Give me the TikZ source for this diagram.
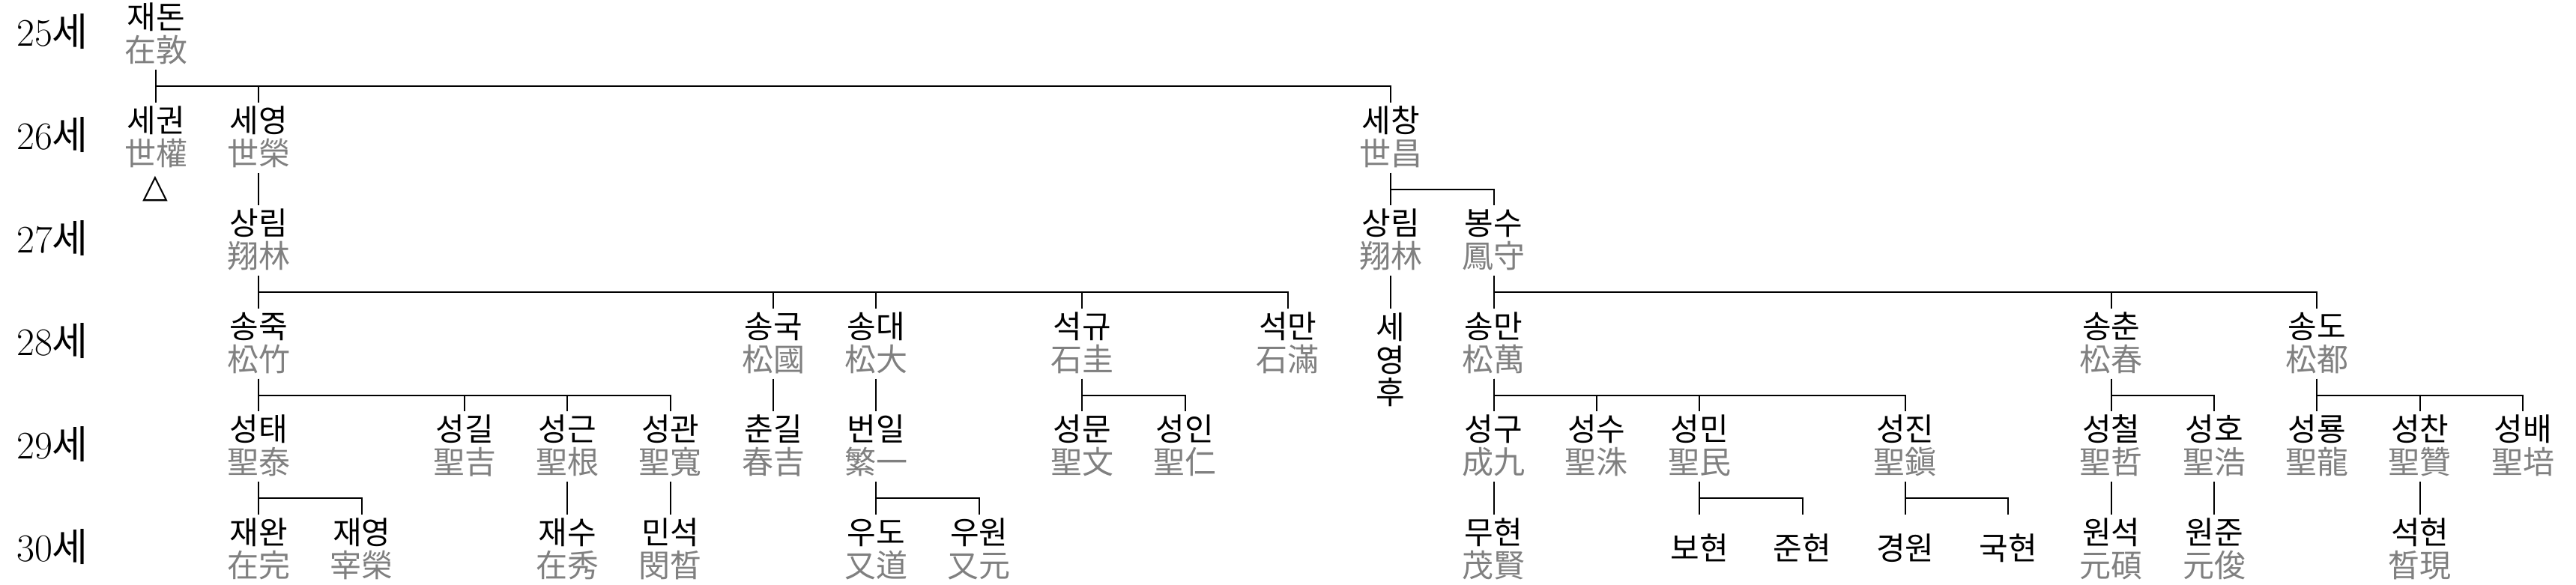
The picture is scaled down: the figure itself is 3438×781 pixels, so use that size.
\documentclass[tikz,border=0pt]{standalone}
\usepackage{fontspec}
\newfontfamily\kr{Noto Sans CJK KR}
\newfontfamily\dv{DejaVu Sans}
\definecolor{hanjagray}{RGB}{128,128,128}
\tikzset{
  pbox/.style={minimum width=86pt, minimum height=93.5pt, inner sep=0pt, draw=none},
  nm/.style={anchor=base, inner sep=0pt, font=\kr\fontsize{42}{48}\selectfont, text=black},
  hj/.style={nm, text=hanjagray},
  gen/.style={anchor=base west, inner sep=0pt, font=\fontsize{52}{60}\selectfont},
  conn/.style={draw=black, line width=2pt},
}
\newcommand\pers[5]{%
  \node[pbox] (#1) at ({208+137.35*#2},{46.25+137.5*#3}) {};
  \node[nm] (#1n) at ({208+137.35*#2},{38.5+137.5*#3}) {#4};
  \node[hj] (#1h) at ({208+137.35*#2},{82.5+137.5*#3}) {#5};
}
\newcommand\persn[4]{%
  \node[pbox] (#1) at ({208+137.35*#2},{46.25+137.5*#3}) {};
  \node[nm] (#1n) at ({208+137.35*#2},{60+137.5*#3}) {#4};
}
\newcommand\kids[2]{\foreach \c in {#2}{\draw[conn] (#1.south) -- ++(0,22) -| (\c.north);}}
\begin{document}
\begin{tikzpicture}[x=1pt,y=-1pt]
\useasboundingbox (0,0) rectangle (3438,781);
% generation labels
\node[gen] (g0) at (22,{62+137.5*0}) {25{\kr 세}};
\node[gen] (g1) at (22,{62+137.5*1}) {26{\kr 세}};
\node[gen] (g2) at (22,{62+137.5*2}) {27{\kr 세}};
\node[gen] (g3) at (22,{62+137.5*3}) {28{\kr 세}};
\node[gen] (g4) at (22,{62+137.5*4}) {29{\kr 세}};
\node[gen] (g5) at (22,{62+137.5*5}) {30{\kr 세}};
% 25
\pers{a0}{0}{0}{재돈}{在敦}
% 26
\pers{b1}{0}{1}{세권}{世權}
\pers{b2}{1}{1}{세영}{世榮}
\pers{b3}{12}{1}{세창}{世昌}
\node[font=\dv\fontsize{44}{50}\selectfont, inner sep=0pt] (tri) at (207,252) {△};
% 27
\pers{c1}{1}{2}{상림}{翔林}
\pers{c2}{12}{2}{상림}{翔林}
\pers{c3}{13}{2}{봉수}{鳳守}
% 28
\pers{d1}{1}{3}{송죽}{松竹}
\pers{d2}{6}{3}{송국}{松國}
\pers{d3}{7}{3}{송대}{松大}
\pers{d4}{9}{3}{석규}{石圭}
\pers{d5}{11}{3}{석만}{石滿}
\node[pbox, anchor=north, minimum height=132pt] (d6) at ({208+137.35*12},411.5) {};
\node[nm, align=center, anchor=north, font=\kr\fontsize{42}{43.5}\selectfont] (d6n) at ({208+137.35*12},418) {세\\영\\후};
\pers{d7}{13}{3}{송만}{松萬}
\pers{d8}{19}{3}{송춘}{松春}
\pers{d9}{21}{3}{송도}{松都}
% 29
\pers{e1}{1}{4}{성태}{聖泰}
\pers{e2}{3}{4}{성길}{聖吉}
\pers{e3}{4}{4}{성근}{聖根}
\pers{e4}{5}{4}{성관}{聖寬}
\pers{e5}{6}{4}{춘길}{春吉}
\pers{e6}{7}{4}{번일}{繁一}
\pers{e7}{9}{4}{성문}{聖文}
\pers{e8}{10}{4}{성인}{聖仁}
\pers{e9}{13}{4}{성구}{成九}
\pers{e10}{14}{4}{성수}{聖洙}
\pers{e11}{15}{4}{성민}{聖民}
\pers{e12}{17}{4}{성진}{聖鎭}
\pers{e13}{19}{4}{성철}{聖哲}
\pers{e14}{20}{4}{성호}{聖浩}
\pers{e15}{21}{4}{성룡}{聖龍}
\pers{e16}{22}{4}{성찬}{聖贊}
\pers{e17}{23}{4}{성배}{聖培}
% 30
\pers{f1}{1}{5}{재완}{在完}
\pers{f2}{2}{5}{재영}{宰榮}
\pers{f3}{4}{5}{재수}{在秀}
\pers{f4}{5}{5}{민석}{閔晳}
\pers{f5}{7}{5}{우도}{又道}
\pers{f6}{8}{5}{우원}{又元}
\pers{f7}{13}{5}{무현}{茂賢}
\persn{f8}{15}{5}{보현}
\persn{f9}{16}{5}{준현}
\persn{f10}{17}{5}{경원}
\persn{f11}{18}{5}{국현}
\pers{f12}{19}{5}{원석}{元碩}
\pers{f13}{20}{5}{원준}{元俊}
\pers{f14}{22}{5}{석현}{晳現}
% connectors
\kids{a0}{b1,b2,b3}
\kids{b2}{c1}
\kids{b3}{c2,c3}
\kids{c1}{d1,d2,d3,d4,d5}
\kids{c2}{d6}
\kids{c3}{d7,d8,d9}
\kids{d1}{e1,e2,e3,e4}
\kids{d2}{e5}
\kids{d3}{e6}
\kids{d4}{e7,e8}
\kids{d7}{e9,e10,e11,e12}
\kids{d8}{e13,e14}
\kids{d9}{e15,e16,e17}
\kids{e1}{f1,f2}
\kids{e3}{f3}
\kids{e4}{f4}
\kids{e6}{f5,f6}
\kids{e9}{f7}
\kids{e11}{f8,f9}
\kids{e12}{f10,f11}
\kids{e13}{f12}
\kids{e14}{f13}
\kids{e16}{f14}
\end{tikzpicture}
\end{document}
